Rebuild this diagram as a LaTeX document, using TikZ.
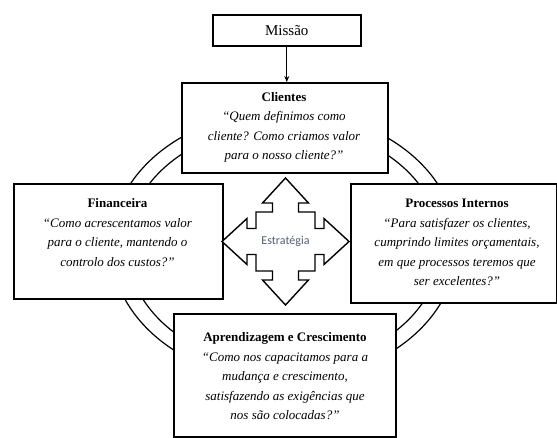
\documentclass[tikz,border=0pt]{standalone}
\usepackage{fontspec}
\setmainfont{Liberation Serif}
\newfontfamily\carlito{Carlito}
\usetikzlibrary{arrows.meta}
\begin{document}
\begin{tikzpicture}[x=1pt,y=-1pt,
  boxstyle/.style={draw=black, line width=1.6pt, fill=white, inner sep=0pt, anchor=north west},
  txtstyle/.style={anchor=north, inner sep=0pt, align=center, font=\fontsize{13}{19.5}\selectfont},
  ringline/.style={line width=1.2pt},
  starline/.style={line width=1.4pt, line join=miter},
  arrowline/.style={line width=1.1pt, -{Stealth[length=6pt,width=5pt]}}
]
\useasboundingbox (0,0) rectangle (557,438);

% ring
\coordinate (ringc) at (284,246);
\draw[ringline] (ringc) ellipse [x radius=173pt, y radius=135pt];
\draw[ringline] (ringc) ellipse [x radius=157pt, y radius=121pt];

% boxes
\node[boxstyle, minimum width=148pt, minimum height=31pt, font=\fontsize{15}{18}\selectfont] (missao) at (212,14) {Missão};
\node[boxstyle, minimum width=206pt, minimum height=90pt] (clientes) at (181,82) {};
\node[boxstyle, minimum width=209pt, minimum height=115pt] (financeira) at (13,183) {};
\node[boxstyle, minimum width=206pt, minimum height=119pt] (processos) at (350,183) {};
\node[boxstyle, minimum width=222pt, minimum height=123pt] (aprendizagem) at (173,313) {};

% texts
\node[txtstyle] (clientest) at (284,87.4) {\strut\textbf{Clientes}\\\textit{“Quem definimos como}\\\textit{cliente? Como criamos valor}\\\textit{para o nosso cliente?”}};
\node[txtstyle] (financeirat) at (117.5,194) {\strut\textbf{Financeira}\\\textit{“Como acrescentamos valor}\\\textit{para o cliente, mantendo o}\\\textit{controlo dos custos?”}};
\node[txtstyle] (processost) at (457,194) {\strut\textbf{Processos Internos}\\\textit{“Para satisfazer os clientes,}\\\textit{cumprindo limites orçamentais,}\\\textit{em que processos teremos que}\\\textit{ser excelentes?”}};
\node[txtstyle] (aprendizagemt) at (285,328) {\strut\textbf{Aprendizagem e Crescimento}\\\textit{“Como nos capacitamos para a}\\\textit{mudança e crescimento,}\\\textit{satisfazendo as exigências que}\\\textit{nos são colocadas?”}};

% arrow
\draw[arrowline] (missao.south) -- (missao.south |- clientes.north);

% strategy quad arrow
\coordinate (starc) at (285.5,241.5);
\begin{scope}[shift={(starc)}]
\draw[starline, fill=white]
 (0,-63.5) -- (23,-38.5) -- (13,-38.5) -- (13,-29.5) -- (29.5,-29.5) -- (29.5,-13) -- (38.5,-13) -- (38.5,-23)
 -- (63.5,0) -- (38.5,23) -- (38.5,13) -- (29.5,13) -- (29.5,29.5) -- (13,29.5) -- (13,38.5) -- (23,38.5)
 -- (0,63.5) -- (-23,38.5) -- (-13,38.5) -- (-13,29.5) -- (-29.5,29.5) -- (-29.5,13) -- (-38.5,13) -- (-38.5,23)
 -- (-63.5,0) -- (-38.5,-23) -- (-38.5,-13) -- (-29.5,-13) -- (-29.5,-29.5) -- (-13,-29.5) -- (-13,-38.5) -- (-23,-38.5)
 -- cycle;
\end{scope}
\node[inner sep=0pt, font=\carlito\fontsize{12}{14}\selectfont, text={rgb,255:red,85;green,95;blue,115}] (estrategia) at (starc) {Estratégia};
\end{tikzpicture}
\end{document}
